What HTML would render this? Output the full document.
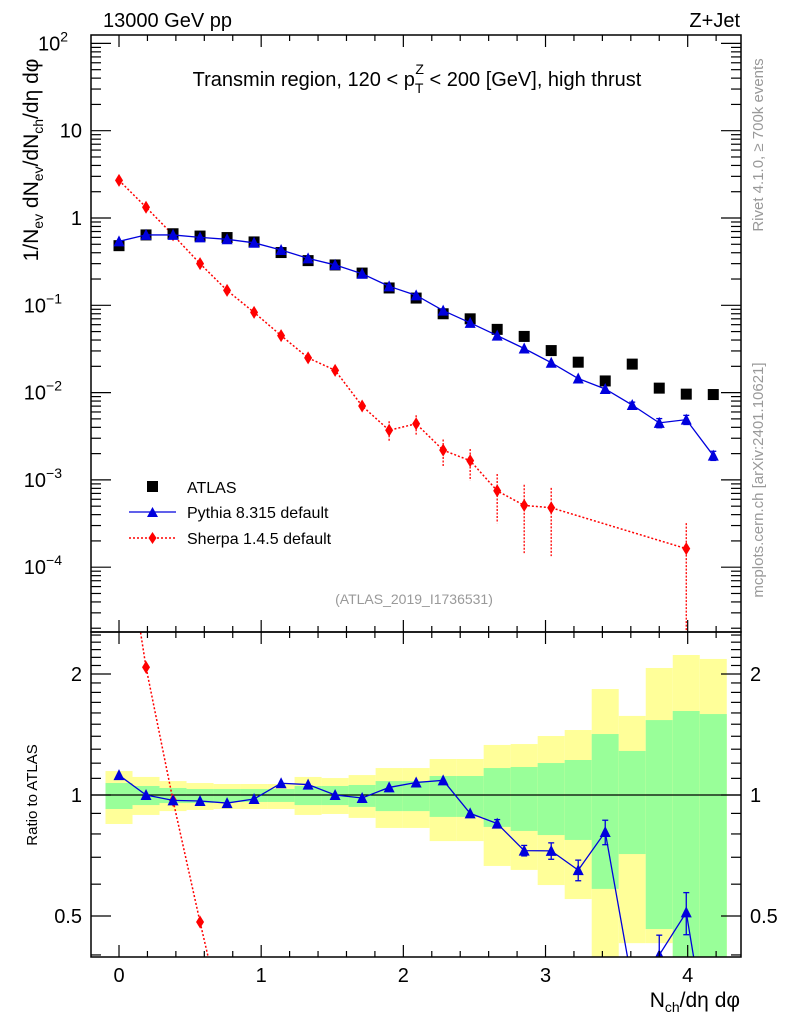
<!DOCTYPE html>
<html><head><meta charset="utf-8"><style>
html,body{margin:0;padding:0;background:#fff;overflow:hidden;width:786px;height:1024px;}
svg{display:block;font-family:"Liberation Sans",sans-serif;}
</style></head><body>
<svg id="chartsvg" width="786" height="1024" viewBox="0 0 786 1024" xmlns="http://www.w3.org/2000/svg">
<text x="103" y="27" font-size="20">13000 GeV pp</text>
<text x="740" y="27" font-size="20" text-anchor="end">Z+Jet</text>
<text x="417" y="86" font-size="20" text-anchor="middle">Transmin region, 120 &lt; p<tspan font-size="14" dy="7">T</tspan><tspan font-size="14" dx="-8" dy="-19">Z</tspan><tspan dy="12"> &lt; 200 [GeV], high thrust</tspan></text>
<text transform="translate(763,145) rotate(-90)" font-size="15" fill="#999" text-anchor="middle">Rivet 4.1.0, ≥ 700k events</text>
<text transform="translate(763,480) rotate(-90)" font-size="15" fill="#999" text-anchor="middle">mcplots.cern.ch [arXiv:2401.10621]</text>
<text x="414" y="604" font-size="14" fill="#999" text-anchor="middle">(ATLAS_2019_I1736531)</text>
<text transform="translate(38,160) rotate(-90)" font-size="21" text-anchor="middle">1/N<tspan font-size="14" dy="5">ev</tspan><tspan dy="-5"> dN</tspan><tspan font-size="14" dy="5">ev</tspan><tspan dy="-5">/dN</tspan><tspan font-size="14" dy="5">ch</tspan><tspan dy="-5">/dη dφ</tspan></text>
<text transform="translate(37,795) rotate(-90)" font-size="15" text-anchor="middle">Ratio to ATLAS</text>
<text x="740" y="1007" font-size="21" text-anchor="end">N<tspan font-size="14" dy="5">ch</tspan><tspan dy="-5">/dη dφ</tspan></text>
<g>
<rect x="147" y="481" width="11" height="11" fill="#000"/>
<text x="187" y="493" font-size="16">ATLAS</text>
<line x1="129" y1="512" x2="176" y2="512" stroke="#0000dd" stroke-width="1.3"/>
<path d="M147,517 L152.5,507 L158,517 Z" fill="#0000dd"/>
<text x="187" y="518" font-size="16">Pythia 8.315 default</text>
<line x1="129" y1="538" x2="176" y2="538" stroke="red" stroke-width="1.5" stroke-dasharray="2,2"/>
<path d="M152.5,532 L156.5,538 L152.5,544 L148.5,538 Z" fill="red"/>
<text x="187" y="544" font-size="16">Sherpa 1.4.5 default</text>
</g>
<g id="plotsgroup"></g>
</svg>
<script>
const xVals = [0,0.19,0.38,0.57,0.76,0.95,1.14,1.33,1.52,1.71,1.9,2.09,2.28,2.47,2.66,2.85,3.04,3.23,3.42,3.61,3.8,3.99,4.18];
const atlasVals = [0.482,0.64,0.66,0.621,0.597,0.532,0.402,0.325,0.29,0.234,0.158,0.121,0.080,0.070,0.053,0.044,0.0303,0.0223,0.0136,0.0212,0.01125,0.0096,0.0095];
const pythiaVals = [0.54,0.64,0.64,0.60,0.57,0.52,0.43,0.345,0.29,0.23,0.165,0.13,0.087,0.063,0.045,0.032,0.022,0.0145,0.011,0.0072,0.0045,0.0049,0.0019];
const pythiaRelErr = [0.005,0.005,0.005,0.005,0.005,0.005,0.006,0.007,0.008,0.009,0.01,0.012,0.014,0.017,0.023,0.03,0.047,0.059,0.07,0.08,0.12,0.12,0.12];
const sherpaX = [0,0.19,0.38,0.57,0.76,0.95,1.14,1.33,1.52,1.71,1.9,2.09,2.28,2.47,2.66,2.85,3.04,3.99];
const sherpaVals = [2.7,1.33,0.64,0.30,0.148,0.083,0.045,0.025,0.018,0.00703,0.0037,0.0044,0.00219,0.00166,0.00075,0.00051,0.00048,0.000163];
const sherpaHi = [2.8,1.38,0.66,0.31,0.153,0.086,0.047,0.026,0.019,0.0078,0.0047,0.0055,0.0029,0.00226,0.00117,0.00088,0.00081,0.00032];
const sherpaLo = [2.6,1.28,0.62,0.29,0.143,0.080,0.043,0.024,0.017,0.0063,0.0028,0.0033,0.00144,0.00098,0.00032,0.000145,0.000134,0.00001];
const greenUp = [1.071,1.053,1.041,1.035,1.035,1.035,1.035,1.053,1.053,1.059,1.083,1.083,1.115,1.115,1.167,1.174,1.201,1.222,1.418,1.287,1.536,1.618,1.59];
const greenDn = [0.923,0.944,0.955,0.955,0.961,0.961,0.961,0.944,0.944,0.934,0.912,0.912,0.882,0.882,0.833,0.814,0.795,0.773,0.584,0.713,0.464,0.3,0.3];
const yellowUp = [1.147,1.109,1.083,1.071,1.065,1.065,1.065,1.109,1.102,1.121,1.167,1.167,1.229,1.229,1.332,1.339,1.402,1.451,1.835,1.573,2.07,2.23,2.18];
const yellowDn = [0.847,0.892,0.912,0.918,0.923,0.923,0.923,0.892,0.897,0.877,0.828,0.828,0.768,0.768,0.666,0.651,0.597,0.551,0.3,0.428,0.428,0.3,0.3];
const xTicks = [0,1,2,3,4];
const mainYTicks = [0.0001,0.001,0.01,0.1,1,10,100];
const mainYLabelBase = ['10','10','10','10','1','10','10'];
const mainYLabelExp = ['−4','−3','−2','−1','','','2'];
const ratioYTicks = [0.5,1,2];

function drawChart(){
  var SVGNS="http://www.w3.org/2000/svg";
  var root=document.getElementById('plotsgroup');
  var pL=91,pR=741,pMT=35,pMB=632,pRB=957;
  function sx(v){return pL+(v+0.197)/(4.375+0.197)*(pR-pL);}
  function sym(v){return 218-87.3*Math.log10(v);}
  function syr(v){return 795-121*Math.log2(v);}
  function mk(tag,attrs,parent){var e=document.createElementNS(SVGNS,tag);for(var k in attrs){e.setAttribute(k,attrs[k]);}(parent||root).appendChild(e);return e;}
  var cpR=mk('clipPath',{id:'clipratio'});mk('rect',{x:pL,y:pMB,width:pR-pL,height:pRB-pMB},cpR);
  var cpM=mk('clipPath',{id:'clipmain'});mk('rect',{x:pL,y:pMT,width:pR-pL,height:pMB-pMT},cpM);
  var ratioG=mk('g',{'clip-path':'url(#clipratio)'});
  
  
  var mainG=mk('g',{'clip-path':'url(#clipmain)'});
  
  
  xVals.forEach(function(x,i){
    var x0=sx(x-0.095),x1=sx(x+0.095);
    var yb=mk('rect',{x:x0,y:syr(yellowUp[i]),width:x1-x0,height:syr(yellowDn[i])-syr(yellowUp[i]),fill:'#ffff99'},ratioG);
    
    
    var gb=mk('rect',{x:x0,y:syr(greenUp[i]),width:x1-x0,height:syr(greenDn[i])-syr(greenUp[i]),fill:'#99ff99'},ratioG);
    
    
  });
  mk('line',{x1:pL,y1:syr(1),x2:pR,y2:syr(1),stroke:'#000','stroke-width':1.2},ratioG);
  function tri(x,y,p,n){var e=mk('path',{d:'M'+(x-5.5)+','+(y+5)+' L'+x+','+(y-6)+' L'+(x+5.5)+','+(y+5)+' Z',fill:'#0000dd'},p);}
  function dia(x,y,p,n){var e=mk('path',{d:'M'+x+','+(y-6.5)+' L'+(x+4)+','+y+' L'+x+','+(y+6.5)+' L'+(x-4)+','+y+' Z',fill:'red'},p);}
  function ebar(x,y1,y2,p,col,n){
    var e=mk('line',{x1:x,x2:x,y1:y1,y2:y2,stroke:col,'stroke-width':1.3},p);
    
    
    if(Math.abs(y2-y1)>6){mk('line',{x1:x-3,x2:x+3,y1:y1,y2:y1,stroke:col,'stroke-width':1.3},p);mk('line',{x1:x-3,x2:x+3,y1:y2,y2:y2,stroke:col,'stroke-width':1.3},p);}
  }
  var pd='';
  sherpaX.forEach(function(x,i){pd+=(i?'L':'M')+sx(x)+','+sym(sherpaVals[i]);});
  var sl=mk('path',{d:pd,fill:'none',stroke:'red','stroke-width':1.5,'stroke-dasharray':'2,2'},mainG);
  
  
  sherpaX.forEach(function(x,i){
    var e=mk('line',{x1:sx(x),x2:sx(x),y1:sym(sherpaHi[i]),y2:sym(sherpaLo[i]),stroke:'red','stroke-width':1.3,'stroke-dasharray':'2,1.5'},mainG);
    
    
    dia(sx(x),sym(sherpaVals[i]),mainG,'sherpa-point');
  });
  xVals.forEach(function(x,i){
    var e=mk('rect',{x:sx(x)-5.5,y:sym(atlasVals[i])-5.5,width:11,height:11,fill:'#000'},mainG);
    
    
  });
  pd='';
  xVals.forEach(function(x,i){pd+=(i?'L':'M')+sx(x)+','+sym(pythiaVals[i]);});
  var pl=mk('path',{d:pd,fill:'none',stroke:'#0000dd','stroke-width':1.3},mainG);
  
  
  xVals.forEach(function(x,i){
    var v=pythiaVals[i],er=pythiaRelErr[i];
    ebar(sx(x),sym(v*(1+er)),sym(v*(1-er)),mainG,'#0000dd','pythia-error-bar');
    tri(sx(x),sym(v),mainG,'pythia-point');
  });
  pd='';
  sherpaX.forEach(function(x,i){var a=atlasVals[xVals.indexOf(x)];pd+=(i?'L':'M')+sx(x)+','+syr(sherpaVals[i]/a);});
  var rsl=mk('path',{d:pd,fill:'none',stroke:'red','stroke-width':1.5,'stroke-dasharray':'2,2'},ratioG);
  
  
  sherpaX.forEach(function(x,i){var a=atlasVals[xVals.indexOf(x)];dia(sx(x),syr(sherpaVals[i]/a),ratioG,'sherpa-ratio-point');});
  pd='';
  xVals.forEach(function(x,i){pd+=(i?'L':'M')+sx(x)+','+syr(pythiaVals[i]/atlasVals[i]);});
  var rpl=mk('path',{d:pd,fill:'none',stroke:'#0000dd','stroke-width':1.3},ratioG);
  
  
  xVals.forEach(function(x,i){
    var r=pythiaVals[i]/atlasVals[i],er=pythiaRelErr[i];
    ebar(sx(x),syr(r*(1+er)),syr(r*(1-er)),ratioG,'#0000dd','pythia-ratio-error-bar');
    tri(sx(x),syr(r),ratioG,'pythia-ratio-point');
  });
  [[pMT,pMB],[pMB,pRB]].forEach(function(tb){
    var f=mk('rect',{x:pL,y:tb[0],width:pR-pL,height:tb[1]-tb[0],fill:'none',stroke:'#000','stroke-width':1.5});
    
    
  });
  function tk(a,b,c,d2){mk('line',{x1:a,y1:b,x2:c,y2:d2,stroke:'#000','stroke-width':1.2});}
  for(var k=-1;k<=22;k++){
    var vv=k/5;var px=sx(vv);if(px<pL||px>pR)continue;
    var len=(k%5===0)?12:6;
    tk(px,pMT,px,pMT+len);tk(px,pMB,px,pMB-len);tk(px,pMB,px,pMB+len);tk(px,pRB,px,pRB-len);
  }
  xTicks.forEach(function(v){
    var t=mk('text',{x:sx(v),y:982,'font-size':20,'text-anchor':'middle'});t.textContent=String(v);
    
    
  });
  for(var e=-5;e<=2;e++){for(var m=1;m<10;m++){var v=m*Math.pow(10,e);var py=sym(v);if(py<pMT||py>pMB)continue;var ln=(m===1)?20:10;tk(pL,py,pL+ln,py);tk(pR,py,pR-ln,py);}}
  mainYTicks.forEach(function(v,i){
    var py=sym(v);var b=mainYLabelBase[i],s=mainYLabelExp[i];
    var xx=s?(s.length>1?62:68):82;
    var t=mk('text',{x:xx,y:py+7,'font-size':20,'text-anchor':'end'});t.textContent=b;
    if(s){var ts=mk('tspan',{'font-size':14,dy:-9},t);ts.textContent=s;}
    
    
  });
  for(var r=4;r<=25;r++){var rv=r/10;var ry=syr(rv);if(ry<pMB||ry>pRB)continue;var maj=(r===5||r===10||r===20);var rl=maj?20:10;tk(pL,ry,pL+rl,ry);tk(pR,ry,pR-rl,ry);}
  ratioYTicks.forEach(function(v){
    var py=syr(v);
    var t=mk('text',{x:82,y:py+7,'font-size':20,'text-anchor':'end'});t.textContent=String(v);
    
    
    var t2=mk('text',{x:750,y:py+7,'font-size':20});t2.textContent=String(v);
    
    
  });
}
try{drawChart();}catch(err){console.log(err);}
</script>
</body></html>
